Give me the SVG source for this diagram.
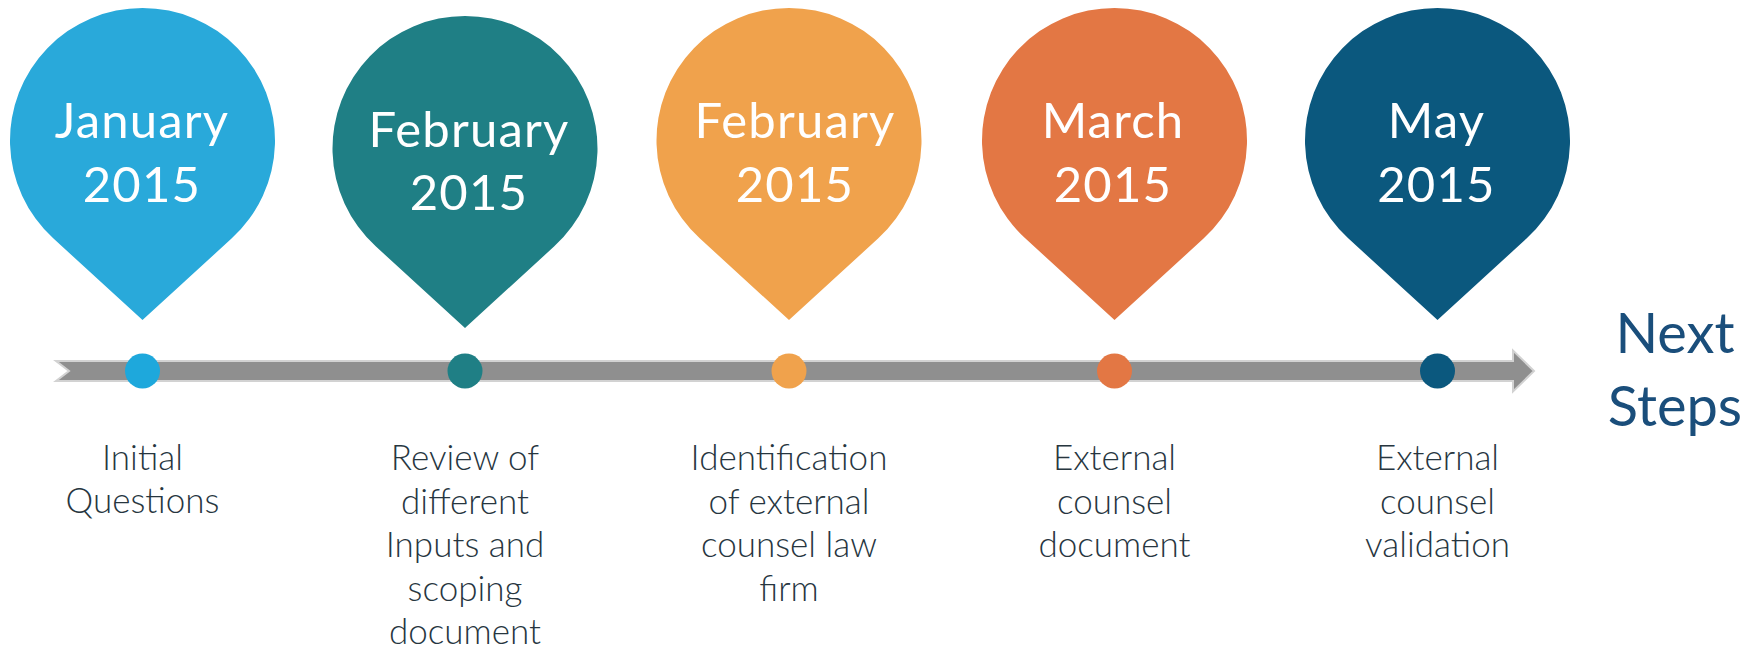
<svg xmlns="http://www.w3.org/2000/svg" width="1762" height="654" viewBox="0 0 1762 654">
  <style>
    .pin-t { font-family: Lato, "Open Sans", "Liberation Sans", sans-serif; font-size: 49px; fill: #ffffff; text-anchor: middle; letter-spacing: 1.2px; }
    .lbl { font-family: Lato, "Open Sans", "Liberation Sans", sans-serif; font-weight: 300; font-size: 35px; fill: #27363f; text-anchor: middle; }
    .next { font-family: Lato, "Open Sans", "Liberation Sans", sans-serif; font-size: 56px; fill: #1a4e7b; text-anchor: middle; }
  </style>
  <defs>
    <path id="pin" d="M 0,179.5 L -89.3,97.8 A 132.5 132.5 0 1 1 89.3,97.8 Z"/>
  </defs>
  <rect width="1762" height="654" fill="#ffffff"/>

  <g id="connectors">
    <path d="M 56,361 L 1513,361 L 1513,350.5 L 1534,371 L 1513,391.5 L 1513,381 L 56,381 L 69,371 Z" fill="#8f8f8f" stroke="#d2d2d2" stroke-width="2" stroke-linejoin="miter"/>
  </g>

  <g id="node-jan">
    <use href="#pin" x="142.5" y="140.5" fill="#29a9da"/>
    <text class="pin-t" x="142" y="138">January</text>
    <text class="pin-t" x="142" y="202">2015</text>
    <circle cx="142.5" cy="371" r="17.5" fill="#1ea8dc"/>
    <text class="lbl" x="142.5" y="470">Initial</text>
    <text class="lbl" x="142.5" y="513">Questions</text>
  </g>

  <g id="node-feb1">
    <use href="#pin" x="465" y="148.5" fill="#1f7f85"/>
    <text class="pin-t" x="469" y="146.5">February</text>
    <text class="pin-t" x="469" y="210">2015</text>
    <circle cx="465" cy="371" r="17.5" fill="#1f7f85"/>
    <text class="lbl" x="465" y="470">Review of</text>
    <text class="lbl" x="465" y="513.5">different</text>
    <text class="lbl" x="465" y="557">Inputs and</text>
    <text class="lbl" x="465" y="600.5">scoping</text>
    <text class="lbl" x="465" y="644">document</text>
  </g>

  <g id="node-feb2">
    <use href="#pin" x="789" y="140.5" fill="#f0a24c"/>
    <text class="pin-t" x="795" y="138">February</text>
    <text class="pin-t" x="795" y="202">2015</text>
    <circle cx="789" cy="371" r="17.5" fill="#f0a24c"/>
    <text class="lbl" x="789" y="470">Identification</text>
    <text class="lbl" x="789" y="513.5">of external</text>
    <text class="lbl" x="789" y="557">counsel law</text>
    <text class="lbl" x="789" y="600.5">firm</text>
  </g>

  <g id="node-mar">
    <use href="#pin" x="1114.5" y="140.5" fill="#e37744"/>
    <text class="pin-t" x="1113" y="138">March</text>
    <text class="pin-t" x="1113" y="202">2015</text>
    <circle cx="1114.5" cy="371" r="17.5" fill="#e37744"/>
    <text class="lbl" x="1114.5" y="470">External</text>
    <text class="lbl" x="1114.5" y="513.5">counsel</text>
    <text class="lbl" x="1114.5" y="557">document</text>
  </g>

  <g id="node-may">
    <use href="#pin" x="1437.5" y="140.5" fill="#0b587e"/>
    <text class="pin-t" x="1436.5" y="138">May</text>
    <text class="pin-t" x="1436.5" y="202">2015</text>
    <circle cx="1437.5" cy="371" r="17.5" fill="#0b587e"/>
    <text class="lbl" x="1437.5" y="470">External</text>
    <text class="lbl" x="1437.5" y="513.5">counsel</text>
    <text class="lbl" x="1437.5" y="557">validation</text>
  </g>

  <g id="node-next">
    <text class="next" x="1675" y="353">Next</text>
    <text class="next" x="1675" y="426">Steps</text>
  </g>
</svg>
